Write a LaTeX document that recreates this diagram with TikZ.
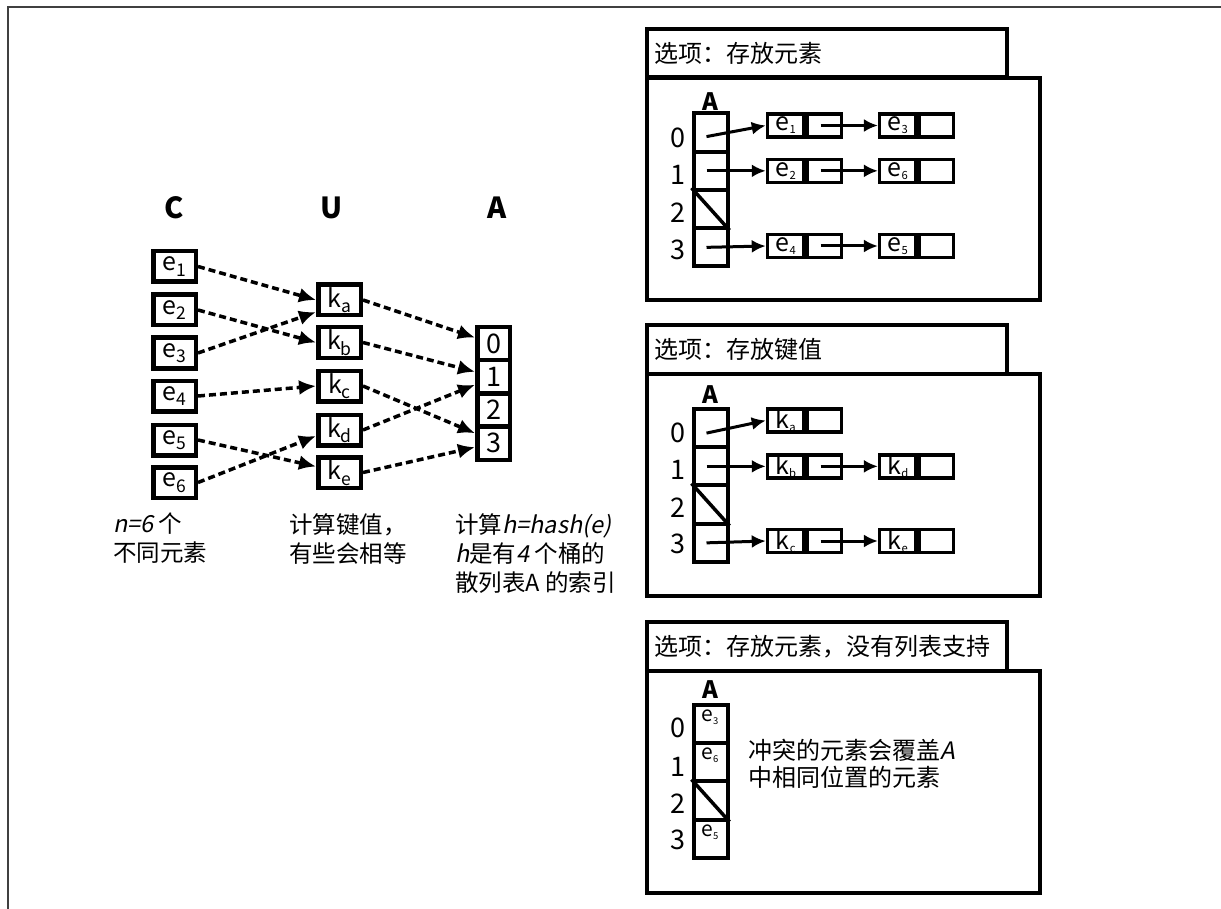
\documentclass[tikz,border=0pt]{standalone}
\usepackage{fontspec}
\setmainfont{Noto Sans CJK SC}[AutoFakeSlant=0.2]
\usetikzlibrary{arrows.meta, positioning}

\newcommand{\bsub}[2]{#1\raisebox{-0.22em}{\scalebox{0.7}{#2}}}
\newcommand{\tsub}[2]{#1\raisebox{-0.12em}{\scalebox{0.45}{#2}}}

\begin{document}
\begin{tikzpicture}[
    x=1pt, y=-1pt,
    hdr/.style={inner sep=0pt, font=\fontsize{29}{29}\selectfont\bfseries},
    ebox/.style={rectangle, draw, line width=4.5pt, minimum width=42.5pt, minimum height=30.5pt, inner sep=0pt, font=\fontsize{25}{25}\selectfont},
    acell/.style={rectangle, draw, line width=4.5pt, minimum width=32.5pt, minimum height=33.2pt, inner sep=0pt, font=\fontsize{27}{27}\selectfont},
    note/.style={anchor=north west, align=left, inner sep=0pt, font=\fontsize{23.5}{29}\selectfont},
    dasharr/.style={-{Latex[length=17pt, width=15pt]}, line width=3.5pt, dash pattern=on 7pt off 4pt},
    tab/.style={rectangle, draw, line width=4pt, anchor=north west, minimum height=48.5pt, text width=346pt, inner xsep=7pt, inner ysep=0pt, align=left, font=\fontsize{24}{24}\selectfont},
    panel/.style={rectangle, draw, line width=4pt, anchor=north west, minimum width=392.5pt, minimum height=222pt},
    pcell/.style={rectangle, draw, line width=4pt, minimum width=34pt, minimum height=38.25pt, inner sep=0pt},
    pidx/.style={inner sep=0pt, font=\fontsize{27}{27}\selectfont},
    ahead/.style={inner sep=0pt, font=\fontsize{24}{24}\selectfont\bfseries},
    lnode/.style={rectangle, draw, line width=3.5pt, minimum width=36.5pt, minimum height=23pt, inner sep=0pt, font=\fontsize{25}{25}\selectfont},
    lnext/.style={rectangle, draw, line width=3.5pt, minimum width=34pt, minimum height=23pt, inner sep=0pt},
    cval/.style={inner sep=0pt, font=\fontsize{21}{21}\selectfont},
    ptr/.style={-{Latex[length=14pt, width=13pt]}, line width=3pt},
    nullbar/.style={line width=3.5pt}
]
    \useasboundingbox (0,0) rectangle (1221,909);
    \draw[line width=1.5pt, black!75] (1221,7) -- (8,7) -- (8,909);

    % Headers
    \node[hdr] (hC) at (174,207.5) {C};
    \node[hdr] (hU) at (332,207.5) {U};
    \node[hdr] (hA) at (497,207.5) {A};

    % Elements C
    \node[ebox] (e1) at (174.5,266.5) {\bsub{e}{1}};
    \node[ebox] (e2) at (174.5,310) {\bsub{e}{2}};
    \node[ebox] (e3) at (174.5,353) {\bsub{e}{3}};
    \node[ebox] (e4) at (174.5,396) {\bsub{e}{4}};
    \node[ebox] (e5) at (174.5,440) {\bsub{e}{5}};
    \node[ebox] (e6) at (174.5,482.5) {\bsub{e}{6}};

    % Keys U
    \node[ebox] (ka) at (339.5,300) {\bsub{k}{a}};
    \node[ebox] (kb) at (339.5,342.5) {\bsub{k}{b}};
    \node[ebox] (kc) at (339.5,386) {\bsub{k}{c}};
    \node[ebox] (kd) at (339.5,430) {\bsub{k}{d}};
    \node[ebox] (ke) at (339.5,472.5) {\bsub{k}{e}};

    % Hash table A
    \node[acell] (a0) at (493.5,343.6) {0};
    \node[acell] (a1) at (493.5,376.8) {1};
    \node[acell] (a2) at (493.5,410) {2};
    \node[acell] (a3) at (493.5,443.2) {3};

    % Dashed connectors
    \draw[dasharr] (e1.east) -- (ka.west);
    \draw[dasharr] (e2.east) -- (kb.west);
    \draw[dasharr] (e3.east) -- ([yshift=-12pt]ka.west);
    \draw[dasharr] (e4.east) -- (kc.west);
    \draw[dasharr] (e5.east) -- ([yshift=6pt]ke.west);
    \draw[dasharr] (e6.east) -- ([yshift=-6pt]kd.west);

    \draw[dasharr] (ka.east) -- ([yshift=6pt]a0.west);
    \draw[dasharr] (kb.east) -- ([yshift=5pt]a1.west);
    \draw[dasharr] (kd.east) -- ([yshift=-8pt]a1.west);
    \draw[dasharr] (kc.east) -- ([yshift=10pt]a3.west);
    \draw[dasharr] (ke.east) -- ([yshift=-4pt]a3.west);

    % Notes
    \node[note] (noteC) at (113,513) {\textit{n=6} 个\\不同元素};
    \node[note] (noteU) at (289,513) {计算键值，\\有些会相等};
    \node[note] (noteA) at (455,513) {计算\textit{h=hash(e)}\\\textit{h}是有\textit{4} 个桶的\\散列表A 的索引};

    % Option 1: elements
    \node[tab] (tab1) at (645,27) {选项：存放元素};
    \node[panel] (box1) at (645,76) {};
    \node[ahead] (p1A) at (710,101.7) {A};
    \node[pcell] (p1a0) at (710.5,132.6) {};
    \node[pcell] (p1a1) at (710.5,170.85) {};
    \node[pcell] (p1a2) at (710.5,209.1) {};
    \node[pcell] (p1a3) at (710.5,247.35) {};
    \node[pidx] (p1i0) at (678,138) {0};
    \node[pidx] (p1i1) at (678,175) {1};
    \node[pidx] (p1i2) at (678,213) {2};
    \node[pidx] (p1i3) at (678,250) {3};
    \draw[nullbar] (p1a2.north west) -- (p1a2.south east);

    \node[lnode] (p1e1) at (785.75,125.5) {\tsub{e}{1}};
    \node[lnext, right=0pt of p1e1] (p1e1n) {};
    \node[lnode] (p1e3) at (897.9,125.5) {\tsub{e}{3}};
    \node[lnext, right=0pt of p1e3] (p1e3n) {};
    \node[lnode] (p1e2) at (785.75,170.85) {\tsub{e}{2}};
    \node[lnext, right=0pt of p1e2] (p1e2n) {};
    \node[lnode] (p1e6) at (897.9,170.85) {\tsub{e}{6}};
    \node[lnext, right=0pt of p1e6] (p1e6n) {};
    \node[lnode] (p1e4) at (785.75,246) {\tsub{e}{4}};
    \node[lnext, right=0pt of p1e4] (p1e4n) {};
    \node[lnode] (p1e5) at (897.9,246) {\tsub{e}{5}};
    \node[lnext, right=0pt of p1e5] (p1e5n) {};

    \draw[ptr] ([xshift=-4pt,yshift=-4pt]p1a0.center) -- (p1e1.west);
    \draw[ptr] ([xshift=-4pt]p1a1.center) -- (p1e2.west);
    \draw[ptr] ([xshift=-4pt]p1a3.center) -- (p1e4.west);
    \draw[ptr] ([xshift=-4pt]p1e1n.center) -- (p1e3.west);
    \draw[ptr] ([xshift=-4pt]p1e2n.center) -- (p1e6.west);
    \draw[ptr] ([xshift=-4pt]p1e4n.center) -- (p1e5.west);

    % Option 2: keys
    \node[tab] (tab2) at (645,323.5) {选项：存放键值};
    \node[panel] (box2) at (645,372) {};
    \node[ahead] (p2A) at (710,395) {A};
    \node[pcell] (p2a0) at (710.5,428.1) {};
    \node[pcell] (p2a1) at (710.5,466.35) {};
    \node[pcell] (p2a2) at (710.5,504.6) {};
    \node[pcell] (p2a3) at (710.5,542.85) {};
    \node[pidx] (p2i0) at (678,433) {0};
    \node[pidx] (p2i1) at (678,470) {1};
    \node[pidx] (p2i2) at (678,508) {2};
    \node[pidx] (p2i3) at (678,544) {3};
    \draw[nullbar] (p2a2.north west) -- (p2a2.south east);

    \node[lnode] (p2ka) at (785.75,420.5) {\tsub{k}{a}};
    \node[lnext, right=0pt of p2ka] (p2kan) {};
    \node[lnode] (p2kb) at (785.75,466.35) {\tsub{k}{b}};
    \node[lnext, right=0pt of p2kb] (p2kbn) {};
    \node[lnode] (p2kd) at (897.9,466.35) {\tsub{k}{d}};
    \node[lnext, right=0pt of p2kd] (p2kdn) {};
    \node[lnode] (p2kc) at (785.75,541) {\tsub{k}{c}};
    \node[lnext, right=0pt of p2kc] (p2kcn) {};
    \node[lnode] (p2ke) at (897.9,541) {\tsub{k}{e}};
    \node[lnext, right=0pt of p2ke] (p2ken) {};

    \draw[ptr] ([xshift=-4pt,yshift=-5pt]p2a0.center) -- (p2ka.west);
    \draw[ptr] ([xshift=-4pt]p2a1.center) -- (p2kb.west);
    \draw[ptr] ([xshift=-4pt]p2a3.center) -- (p2kc.west);
    \draw[ptr] ([xshift=-4pt]p2kbn.center) -- (p2kd.west);
    \draw[ptr] ([xshift=-4pt]p2kcn.center) -- (p2ke.west);

    % Option 3: elements, no lists
    \node[tab] (tab3) at (645,620) {选项：存放元素，没有列表支持};
    \node[panel] (box3) at (645,668.5) {};
    \node[ahead] (p3A) at (710,690) {A};
    \node[pcell] (p3a0) at (710.5,724.1) {};
    \node[pcell] (p3a1) at (710.5,762.35) {};
    \node[pcell] (p3a2) at (710.5,800.6) {};
    \node[pcell] (p3a3) at (710.5,838.85) {};
    \node[pidx] (p3i0) at (678,728.3) {0};
    \node[pidx] (p3i1) at (678,766.7) {1};
    \node[pidx] (p3i2) at (678,803.3) {2};
    \node[pidx] (p3i3) at (678,840) {3};
    \draw[nullbar] (p3a2.north west) -- (p3a2.south east);
    \node[cval] (p3v0) at (710,717) {\tsub{e}{3}};
    \node[cval] (p3v1) at (710,755) {\tsub{e}{6}};
    \node[cval] (p3v3) at (710,832) {\tsub{e}{5}};

    \node[note, font=\fontsize{24}{27}\selectfont] (p3note) at (748,738.5) {冲突的元素会覆盖\textit{A}\\中相同位置的元素};

\end{tikzpicture}
\end{document}
